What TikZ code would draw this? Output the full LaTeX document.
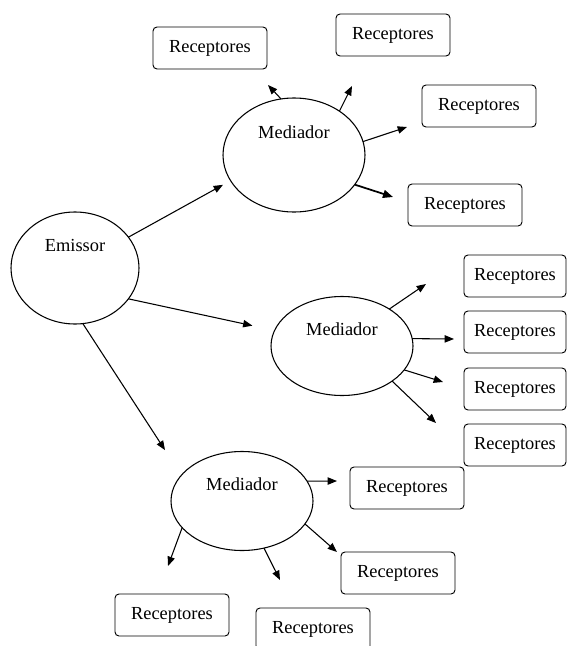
\documentclass[tikz,border=0pt]{standalone}
\usepackage{fontspec}
\setmainfont{Liberation Serif}
\usepackage{tikz}
\usetikzlibrary{positioning,arrows.meta,shapes.geometric}

\begin{document}
\begin{tikzpicture}[
    x=0.75pt, y=-0.75pt,
    every node/.style={font=\fontsize{13.8}{16}\selectfont},
    emitter/.style={ellipse, draw=black, line width=0.8pt, inner sep=0pt, outer sep=0pt, minimum width=96pt, minimum height=84pt},
    mediator/.style={ellipse, draw=black, line width=0.8pt, inner sep=0pt, outer sep=0pt, minimum width=106.5pt, minimum height=74.25pt},
    receptor/.style={rectangle, rounded corners=3pt, draw=black, line width=0.7pt, minimum width=85.5pt, minimum height=31.5pt, inner sep=0pt},
    narrowreceptor/.style={receptor, minimum width=76.5pt},
    arrow/.style={-{Triangle[length=7pt, width=5.5pt]}, line width=0.8pt},
    thickarrow/.style={-{Triangle[length=7.5pt, width=6pt]}, line width=1.3pt},
]
\useasboundingbox (0,0) rectangle (569,646);

% --- EMITTER ---
\node[emitter, label={[yshift=17pt]center:Emissor}] (emissor) at (75,268) {};

% --- MEDIATORS ---
\node[mediator, minimum height=85.5pt, label={[yshift=17pt]center:Mediador}] (medA) at (294,155) {};
\node[mediator, label={[yshift=12.75pt]center:Mediador}] (medB) at (342,346) {};
\node[mediator, label={[yshift=12.75pt]center:Mediador}] (medC) at (242,501) {};

% --- RECEPTORS OF MEDIATOR A ---
\node[receptor] (recA1) at (210,48)  {Receptores};
\node[receptor] (recA2) at (393,35)  {Receptores};
\node[receptor] (recA3) at (479,106) {Receptores};
\node[receptor] (recA4) at (465,205) {Receptores};

% --- RECEPTORS OF MEDIATOR B ---
\node[narrowreceptor] (recB1) at (515,276) {Receptores};
\node[narrowreceptor] (recB2) at (515,332) {Receptores};
\node[narrowreceptor] (recB3) at (515,389) {Receptores};
\node[narrowreceptor] (recB4) at (515,445) {Receptores};

% --- RECEPTORS OF MEDIATOR C ---
\node[receptor] (recC1) at (407,488) {Receptores};
\node[receptor] (recC2) at (398,573) {Receptores};
\node[receptor] (recC3) at (172,615) {Receptores};
\node[receptor] (recC4) at (313,629) {Receptores};

% --- ARROW TIPS (free ends) ---
\coordinate (tA1) at (268,85);
\coordinate (tA2) at (352,86);
\coordinate (tA3) at (407,127);
\coordinate (tA4) at (393,197);
\coordinate (tB1) at (426,284);
\coordinate (tB2) at (454,339);
\coordinate (tB3) at (443,382);
\coordinate (tB4) at (436,423);
\coordinate (tC1) at (337,481);
\coordinate (tC2) at (337,552);
\coordinate (tC3) at (168,566);
\coordinate (tC4) at (280,580);

% --- EMITTER -> MEDIATORS ---
\draw[arrow, shorten >=6.5pt]  (emissor.30)  -- (medA.202);
\draw[arrow, shorten >=17pt]   (emissor.-30) -- (medB.167);
\draw[arrow, shorten >=22.5pt] (emissor.-82) -- (medC.157);

% --- MEDIATOR A -> RECEPTORS ---
\draw[arrow] (medA.103) -- (tA1);
\draw[arrow] (medA.44)  -- (tA2);
\draw[arrow] (medA.11)  -- (tA3);
\draw[thickarrow] (medA.-26) -- (tA4);

% --- MEDIATOR B -> RECEPTORS ---
\draw[arrow] (medB.38)  -- (tB1);
\draw[arrow] (medB.6)   -- (tB2);
\draw[arrow] (medB.-21) -- (tB3);
\draw[arrow] (medB.-35) -- (tB4);

% --- MEDIATOR C -> RECEPTORS ---
\draw[arrow] (medC.17)   -- (tC1);
\draw[arrow] (medC.-20)  -- (tC2);
\draw[arrow] (medC.-156) -- (tC3);
\draw[arrow] (medC.-65)  -- (tC4);

\end{tikzpicture}
\end{document}
